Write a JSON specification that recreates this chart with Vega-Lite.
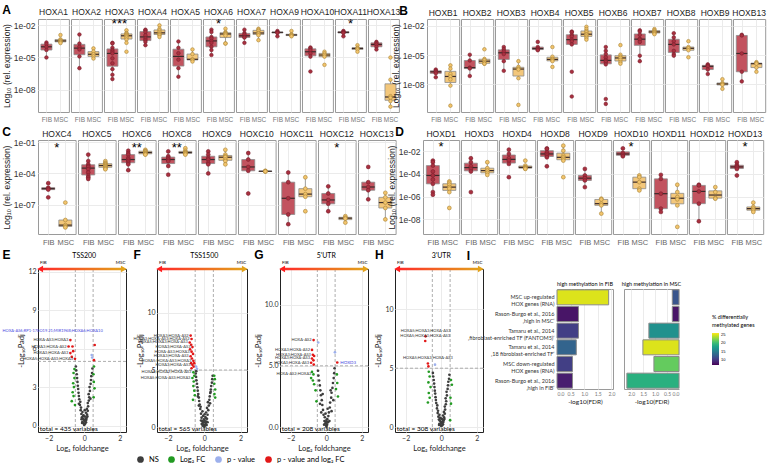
{
"$schema": "https://vega.github.io/schema/vega-lite/v6.json",
"padding": {"left": 2, "top": 3, "right": 2, "bottom": 1},
"spacing": 2,
"align": "none",
"center": false,
"resolve": {"scale": {"color": "independent", "fill": "independent", "stroke": "independent"}},
"config": {
  "font": "Liberation Sans",
  "view": {"stroke": "#9a9a9a"},
  "axis": {"gridColor": "#ebebeb", "domain": false, "ticks": false, "labelColor": "#333", "titleColor": "#222", "titleFontWeight": "normal"},
  "title": {"fontSize": 12, "fontWeight": "bold", "anchor": "start", "frame": "bounds", "color": "#000"},
  "header": {"labelFontSize": 8.5, "labelColor": "#222", "labelPadding": 1}
},
"vconcat": [
 {"hconcat": [
  {"title": {"text": "A", "offset": -9},
   "data": {"name": "A"}, "spacing": 0,
   "facet": {"column": {"field": "g", "type": "nominal", "sort": ["HOXA1","HOXA2","HOXA3","HOXA4","HOXA5","HOXA6","HOXA7","HOXA9","HOXA10","HOXA11","HOXA13"], "header": {"title": null}}},
   "spec": {"width": 30.9, "height": 93,
    "encoding": {"y": {"field": "v", "type": "quantitative", "scale": {"domain": [-10.1, -1.4], "nice": false, "zero": false}, "axis": {"title": "Log₁₀ (rel. expression)", "values": [-2, -5, -8], "labelExpr": "'1e-0' + (-datum.value)", "labelFontSize": 8.5, "titleFontSize": 8.5, "labelPadding": 2, "titlePadding": 2}}},
    "layer": [
     {"transform": [{"filter": "!datum.k"}], "mark": {"type": "boxplot", "extent": 1.5, "size": 11, "outliers": false, "ticks": false, "median": false, "box": {"stroke": "#8c8c8c", "strokeWidth": 0.8}, "rule": {"color": "#8c8c8c", "strokeWidth": 0.8}},
      "encoding": {"x": {"field": "s", "type": "nominal", "scale": {"type": "point", "padding": 0.6}, "axis": {"title": null, "labelAngle": 0, "labelFontSize": 6.5, "labelColor": "#777", "grid": true, "labelPadding": 3}}, "color": {"field": "s", "type": "nominal", "scale": {"domain": ["FIB", "MSC"], "range": ["#c2535f", "#f3c77b"]}, "legend": null}}},
     {"transform": [{"filter": "!datum.k"}], "mark": {"type": "tick", "color": "#3a2a2a", "size": 11, "thickness": 1.2},
      "encoding": {"x": {"field": "s", "type": "nominal"}, "y": {"aggregate": "median", "field": "v", "type": "quantitative"}}},
     {"transform": [{"filter": "!datum.k"}], "mark": {"type": "point", "filled": true, "size": 13, "opacity": 1, "strokeWidth": 0.6},
      "encoding": {"x": {"field": "s", "type": "nominal"}, "fill": {"field": "s", "type": "nominal", "scale": {"domain": ["FIB", "MSC"], "range": ["#a8303f", "#f2c46c"]}, "legend": null}, "stroke": {"field": "s", "type": "nominal", "scale": {"domain": ["FIB", "MSC"], "range": ["#7a1f2b", "#a88336"]}, "legend": null}}},
     {"transform": [{"filter": "datum.k"}], "mark": {"type": "text", "fontSize": 13, "baseline": "middle"}, "encoding": {"text": {"field": "k"}}}
    ]}},
  {"title": {"text": "B", "offset": -9, "dx": 8},
   "data": {"name": "B"}, "spacing": 0,
   "facet": {"column": {"field": "g", "type": "nominal", "sort": ["HOXB1","HOXB2","HOXB3","HOXB4","HOXB5","HOXB6","HOXB7","HOXB8","HOXB9","HOXB13"], "header": {"title": null}}},
   "spec": {"width": 32.2, "height": 93,
    "encoding": {"y": {"field": "v", "type": "quantitative", "scale": {"domain": [-10.85, -1.3], "nice": false, "zero": false}, "axis": {"title": "Log₁₀ (rel. expression)", "values": [-2, -5, -8], "labelExpr": "'1e-0' + (-datum.value)", "labelFontSize": 8.5, "titleFontSize": 8.5, "labelPadding": 2, "titlePadding": 2}}},
    "layer": [
     {"mark": {"type": "boxplot", "extent": 1.5, "size": 11, "outliers": false, "ticks": false, "median": false, "box": {"stroke": "#8c8c8c", "strokeWidth": 0.8}, "rule": {"color": "#8c8c8c", "strokeWidth": 0.8}},
      "encoding": {"x": {"field": "s", "type": "nominal", "scale": {"type": "point", "padding": 0.6}, "axis": {"title": null, "labelAngle": 0, "labelFontSize": 6.5, "labelColor": "#777", "grid": true, "labelPadding": 3}}, "color": {"field": "s", "type": "nominal", "scale": {"domain": ["FIB", "MSC"], "range": ["#c2535f", "#f3c77b"]}, "legend": null}}},
     {"mark": {"type": "tick", "color": "#3a2a2a", "size": 11, "thickness": 1.2},
      "encoding": {"x": {"field": "s", "type": "nominal"}, "y": {"aggregate": "median", "field": "v", "type": "quantitative"}}},
     {"mark": {"type": "point", "filled": true, "size": 13, "opacity": 1, "strokeWidth": 0.6},
      "encoding": {"x": {"field": "s", "type": "nominal"}, "fill": {"field": "s", "type": "nominal", "scale": {"domain": ["FIB", "MSC"], "range": ["#a8303f", "#f2c46c"]}, "legend": null}, "stroke": {"field": "s", "type": "nominal", "scale": {"domain": ["FIB", "MSC"], "range": ["#7a1f2b", "#a88336"]}, "legend": null}}}
    ]}}
 ], "spacing": -10},
 {"hconcat": [
  {"title": {"text": "C", "offset": -9},
   "data": {"name": "C"}, "spacing": 0,
   "facet": {"column": {"field": "g", "type": "nominal", "sort": ["HOXC4","HOXC5","HOXC6","HOXC8","HOXC9","HOXC10","HOXC11","HOXC12","HOXC13"], "header": {"title": null}}},
   "spec": {"width": 37.6, "height": 94,
    "encoding": {"y": {"field": "v", "type": "quantitative", "scale": {"domain": [-9.8, -0.8], "nice": false, "zero": false}, "axis": {"title": "Log₁₀ (rel. expression)", "values": [-1, -4, -7], "labelExpr": "'1e-0' + (-datum.value)", "labelFontSize": 8.5, "titleFontSize": 8.5, "labelPadding": 2, "titlePadding": 2}}},
    "layer": [
     {"transform": [{"filter": "!datum.k"}], "mark": {"type": "boxplot", "extent": 1.5, "size": 13, "outliers": false, "ticks": false, "median": false, "box": {"stroke": "#8c8c8c", "strokeWidth": 0.8}, "rule": {"color": "#8c8c8c", "strokeWidth": 0.8}},
      "encoding": {"x": {"field": "s", "type": "nominal", "scale": {"type": "point", "padding": 0.6}, "axis": {"title": null, "labelAngle": 0, "labelFontSize": 7.5, "labelColor": "#666", "grid": true, "labelPadding": 3}}, "color": {"field": "s", "type": "nominal", "scale": {"domain": ["FIB", "MSC"], "range": ["#c2535f", "#f3c77b"]}, "legend": null}}},
     {"transform": [{"filter": "!datum.k"}], "mark": {"type": "tick", "color": "#3a2a2a", "size": 13, "thickness": 1.2},
      "encoding": {"x": {"field": "s", "type": "nominal"}, "y": {"aggregate": "median", "field": "v", "type": "quantitative"}}},
     {"transform": [{"filter": "!datum.k"}], "mark": {"type": "point", "filled": true, "size": 15, "opacity": 1, "strokeWidth": 0.6},
      "encoding": {"x": {"field": "s", "type": "nominal"}, "fill": {"field": "s", "type": "nominal", "scale": {"domain": ["FIB", "MSC"], "range": ["#a8303f", "#f2c46c"]}, "legend": null}, "stroke": {"field": "s", "type": "nominal", "scale": {"domain": ["FIB", "MSC"], "range": ["#7a1f2b", "#a88336"]}, "legend": null}}},
     {"transform": [{"filter": "datum.k"}], "mark": {"type": "text", "fontSize": 13, "baseline": "middle"}, "encoding": {"text": {"field": "k"}}}
    ]}},
  {"title": {"text": "D", "offset": -9, "dx": 8},
   "data": {"name": "D"}, "spacing": 0,
   "facet": {"column": {"field": "g", "type": "nominal", "sort": ["HOXD1","HOXD3","HOXD4","HOXD8","HOXD9","HOXD10","HOXD11","HOXD12","HOXD13"], "header": {"title": null}}},
   "spec": {"width": 36.2, "height": 94,
    "encoding": {"y": {"field": "v", "type": "quantitative", "scale": {"domain": [-9.3, -1.0], "nice": false, "zero": false}, "axis": {"title": "Log₁₀ (rel. expression)", "values": [-2, -4, -6, -8], "labelExpr": "'1e-0' + (-datum.value)", "labelFontSize": 8.5, "titleFontSize": 8.5, "labelPadding": 2, "titlePadding": 2}}},
    "layer": [
     {"transform": [{"filter": "!datum.k"}], "mark": {"type": "boxplot", "extent": 1.5, "size": 13, "outliers": false, "ticks": false, "median": false, "box": {"stroke": "#8c8c8c", "strokeWidth": 0.8}, "rule": {"color": "#8c8c8c", "strokeWidth": 0.8}},
      "encoding": {"x": {"field": "s", "type": "nominal", "scale": {"type": "point", "padding": 0.6}, "axis": {"title": null, "labelAngle": 0, "labelFontSize": 7.5, "labelColor": "#666", "grid": true, "labelPadding": 3}}, "color": {"field": "s", "type": "nominal", "scale": {"domain": ["FIB", "MSC"], "range": ["#c2535f", "#f3c77b"]}, "legend": null}}},
     {"transform": [{"filter": "!datum.k"}], "mark": {"type": "tick", "color": "#3a2a2a", "size": 13, "thickness": 1.2},
      "encoding": {"x": {"field": "s", "type": "nominal"}, "y": {"aggregate": "median", "field": "v", "type": "quantitative"}}},
     {"transform": [{"filter": "!datum.k"}], "mark": {"type": "point", "filled": true, "size": 15, "opacity": 1, "strokeWidth": 0.6},
      "encoding": {"x": {"field": "s", "type": "nominal"}, "fill": {"field": "s", "type": "nominal", "scale": {"domain": ["FIB", "MSC"], "range": ["#a8303f", "#f2c46c"]}, "legend": null}, "stroke": {"field": "s", "type": "nominal", "scale": {"domain": ["FIB", "MSC"], "range": ["#7a1f2b", "#a88336"]}, "legend": null}}},
     {"transform": [{"filter": "datum.k"}], "mark": {"type": "text", "fontSize": 13, "baseline": "middle"}, "encoding": {"text": {"field": "k"}}}
    ]}}
 ], "spacing": -10},
 {"hconcat": [
  {"hconcat": [
   {"width": 88, "height": 163, "view": {"stroke": "#222"}, "title": {"text": "E", "offset": -10},
    "data": {"values": [{}]},
    "layer": [
     {"mark": {"type": "rule", "strokeDash": [3, 2], "color": "#999", "strokeWidth": 0.8}, "encoding": {"x": {"datum": -0.5}}},
     {"mark": {"type": "rule", "strokeDash": [3, 2], "color": "#999", "strokeWidth": 0.8}, "encoding": {"x": {"datum": 0.5}}},
     {"mark": {"type": "rule", "strokeDash": [3, 2], "color": "#999", "strokeWidth": 0.8}, "encoding": {"y": {"datum": 5}}},
     {"data": {"name": "VE"}, "mark": {"type": "circle", "size": 7, "opacity": 1},
      "encoding": {"x": {"field": "x", "type": "quantitative", "scale": {"domain": [-2.6, 2.35], "nice": false}, "axis": {"title": "Log₂ foldchange", "values": [-2, -1, 0, 1, 2], "labelFont": "Lato", "titleFont": "Lato", "labelFontSize": 7, "titleFontSize": 7.5, "grid": true, "labelPadding": 2, "titlePadding": 3}},
       "y": {"field": "y", "type": "quantitative", "scale": {"domain": [-0.5, 12.2], "nice": false}, "axis": {"title": "-Log₁₀Padj", "values": [0, 3, 6, 9, 12], "labelFont": "Lato", "titleFont": "Lato", "labelFontSize": 7, "titleFontSize": 7.5, "grid": true, "labelPadding": 2, "titlePadding": 2}},
       "color": {"field": "c", "type": "nominal", "scale": {"domain": ["NS", "FC", "P", "PFC"], "range": ["#3d3d3d", "#229a22", "#9db0ec", "#e21818"]}, "legend": {"orient": "none", "legendX": 98, "legendY": 186, "direction": "horizontal", "title": null, "symbolType": "circle", "symbolSize": 45, "labelFont": "Lato", "labelFontSize": 7.5, "columnPadding": 8, "labelExpr": "datum.label == 'FC' ? 'Log₂ FC' : datum.label == 'P' ? 'p - value' : datum.label == 'PFC' ? 'p - value and log₂ FC' : 'NS'"}}}},
     {"data": {"name": "VE"}, "transform": [{"filter": "datum.t"}], "mark": {"type": "text", "fontSize": 4, "align": "right", "dx": -2, "color": "#333", "font": "Lato"}, "encoding": {"x": {"field": "x", "type": "quantitative"}, "y": {"field": "y", "type": "quantitative"}, "text": {"field": "t"}}},
     {"data": {"name": "VE"}, "transform": [{"filter": "datum.tb"}], "mark": {"type": "text", "fontSize": 4, "align": "right", "dx": 8, "dy": -14, "color": "#4848e0", "font": "Lato"}, "encoding": {"x": {"field": "x", "type": "quantitative"}, "y": {"field": "y", "type": "quantitative"}, "text": {"field": "tb"}}},
     {"mark": {"type": "rect", "clip": false, "color": {"gradient": "linear", "stops": [{"offset": 0, "color": "#ff2a2a"}, {"offset": 1, "color": "#e3a21a"}]}}, "encoding": {"x": {"datum": -2.42}, "x2": {"datum": 2.17}, "y": {"datum": 12.3}, "y2": {"datum": 12.1}}},
     {"mark": {"type": "point", "shape": "triangle-left", "filled": true, "color": "#ff2020", "size": 45, "opacity": 1, "clip": false}, "encoding": {"x": {"datum": -2.48}, "y": {"datum": 12.2}}},
     {"mark": {"type": "point", "shape": "triangle-right", "filled": true, "color": "#e3a21a", "size": 45, "opacity": 1, "clip": false}, "encoding": {"x": {"datum": 2.23}, "y": {"datum": 12.2}}},
     {"mark": {"type": "text", "text": "FIB", "fontSize": 4.5, "dy": -6, "font": "Lato", "clip": false}, "encoding": {"x": {"datum": -2.3}, "y": {"datum": 12.2}}},
     {"mark": {"type": "text", "text": "MSC", "fontSize": 4.5, "dy": -6, "font": "Lato", "clip": false}, "encoding": {"x": {"datum": 2.05}, "y": {"datum": 12.2}}},
     {"mark": {"type": "text", "text": "TSS200", "fontSize": 7, "dy": -13, "font": "Lato", "clip": false}, "encoding": {"x": {"datum": 0}, "y": {"datum": 12.2}}},
     {"mark": {"type": "text", "text": "total = 435 variables", "fontSize": 6.5, "align": "left", "baseline": "bottom", "font": "Lato"}, "encoding": {"x": {"datum": -2.5}, "y": {"datum": -0.5}}}
    ]},
   {"width": 90, "height": 163, "view": {"stroke": "#222"}, "title": {"text": "F", "offset": -10},
    "data": {"values": [{}]},
    "layer": [
     {"mark": {"type": "rule", "strokeDash": [3, 2], "color": "#999", "strokeWidth": 0.8}, "encoding": {"x": {"datum": -0.5}}},
     {"mark": {"type": "rule", "strokeDash": [3, 2], "color": "#999", "strokeWidth": 0.8}, "encoding": {"x": {"datum": 0.5}}},
     {"mark": {"type": "rule", "strokeDash": [3, 2], "color": "#999", "strokeWidth": 0.8}, "encoding": {"y": {"datum": 5}}},
     {"data": {"name": "VF"}, "mark": {"type": "circle", "size": 7, "opacity": 1},
      "encoding": {"x": {"field": "x", "type": "quantitative", "scale": {"domain": [-2.6, 2.35], "nice": false}, "axis": {"title": "Log₂ foldchange", "values": [-2, -1, 0, 1, 2], "labelFont": "Lato", "titleFont": "Lato", "labelFontSize": 7, "titleFontSize": 7.5, "grid": true, "labelPadding": 2, "titlePadding": 3}},
       "y": {"field": "y", "type": "quantitative", "scale": {"domain": [-0.4, 13.8], "nice": false}, "axis": {"title": "-Log₁₀Padj", "values": [0, 5, 10], "labelFont": "Lato", "titleFont": "Lato", "labelFontSize": 7, "titleFontSize": 7.5, "grid": true, "labelPadding": 2, "titlePadding": 2}},
       "color": {"field": "c", "type": "nominal", "scale": {"domain": ["NS", "FC", "P", "PFC"], "range": ["#3d3d3d", "#229a22", "#9db0ec", "#e21818"]}, "legend": {"orient": "none", "legendX": 98, "legendY": 186, "direction": "horizontal", "title": null, "symbolType": "circle", "symbolSize": 45, "labelFont": "Lato", "labelFontSize": 7.5, "columnPadding": 8, "labelExpr": "datum.label == 'FC' ? 'Log₂ FC' : datum.label == 'P' ? 'p - value' : datum.label == 'PFC' ? 'p - value and log₂ FC' : 'NS'"}}}},
     {"data": {"name": "VF"}, "transform": [{"filter": "datum.t"}], "mark": {"type": "text", "fontSize": 4, "align": "right", "dx": -2, "color": "#333", "font": "Lato"}, "encoding": {"x": {"field": "x", "type": "quantitative"}, "y": {"field": "y", "type": "quantitative"}, "text": {"field": "t"}}},
     {"mark": {"type": "rect", "clip": false, "color": {"gradient": "linear", "stops": [{"offset": 0, "color": "#ff2a2a"}, {"offset": 1, "color": "#e3a21a"}]}}, "encoding": {"x": {"datum": -2.42}, "x2": {"datum": 2.17}, "y": {"datum": 13.9}, "y2": {"datum": 13.7}}},
     {"mark": {"type": "point", "shape": "triangle-left", "filled": true, "color": "#ff2020", "size": 45, "opacity": 1, "clip": false}, "encoding": {"x": {"datum": -2.48}, "y": {"datum": 13.8}}},
     {"mark": {"type": "point", "shape": "triangle-right", "filled": true, "color": "#e3a21a", "size": 45, "opacity": 1, "clip": false}, "encoding": {"x": {"datum": 2.23}, "y": {"datum": 13.8}}},
     {"mark": {"type": "text", "text": "FIB", "fontSize": 4.5, "dy": -6, "font": "Lato", "clip": false}, "encoding": {"x": {"datum": -2.3}, "y": {"datum": 13.8}}},
     {"mark": {"type": "text", "text": "MSC", "fontSize": 4.5, "dy": -6, "font": "Lato", "clip": false}, "encoding": {"x": {"datum": 2.05}, "y": {"datum": 13.8}}},
     {"mark": {"type": "text", "text": "TSS1500", "fontSize": 7, "dy": -13, "font": "Lato", "clip": false}, "encoding": {"x": {"datum": 0}, "y": {"datum": 13.8}}},
     {"mark": {"type": "text", "text": "total = 565 variables", "fontSize": 6.5, "align": "left", "baseline": "bottom", "font": "Lato"}, "encoding": {"x": {"datum": -2.5}, "y": {"datum": -0.4}}}
    ]},
   {"width": 88, "height": 163, "view": {"stroke": "#222"}, "title": {"text": "G", "offset": -10},
    "data": {"values": [{}]},
    "layer": [
     {"mark": {"type": "rule", "strokeDash": [3, 2], "color": "#999", "strokeWidth": 0.8}, "encoding": {"x": {"datum": -0.5}}},
     {"mark": {"type": "rule", "strokeDash": [3, 2], "color": "#999", "strokeWidth": 0.8}, "encoding": {"x": {"datum": 0.5}}},
     {"mark": {"type": "rule", "strokeDash": [3, 2], "color": "#999", "strokeWidth": 0.8}, "encoding": {"y": {"datum": 5}}},
     {"data": {"name": "VG"}, "mark": {"type": "circle", "size": 7, "opacity": 1},
      "encoding": {"x": {"field": "x", "type": "quantitative", "scale": {"domain": [-2.6, 2.35], "nice": false}, "axis": {"title": "Log₂ foldchange", "values": [-2, -1, 0, 1, 2], "labelFont": "Lato", "titleFont": "Lato", "labelFontSize": 7, "titleFontSize": 7.5, "grid": true, "labelPadding": 2, "titlePadding": 3}},
       "y": {"field": "y", "type": "quantitative", "scale": {"domain": [-0.4, 12.9], "nice": false}, "axis": {"title": "-Log₁₀Padj", "values": [0, 2.5, 5, 7.5, 10, 12.5], "format": ".1f", "labelFont": "Lato", "titleFont": "Lato", "labelFontSize": 7, "titleFontSize": 7.5, "grid": true, "labelPadding": 2, "titlePadding": 2}},
       "color": {"field": "c", "type": "nominal", "scale": {"domain": ["NS", "FC", "P", "PFC"], "range": ["#3d3d3d", "#229a22", "#9db0ec", "#e21818"]}, "legend": {"orient": "none", "legendX": 98, "legendY": 186, "direction": "horizontal", "title": null, "symbolType": "circle", "symbolSize": 45, "labelFont": "Lato", "labelFontSize": 7.5, "columnPadding": 8, "labelExpr": "datum.label == 'FC' ? 'Log₂ FC' : datum.label == 'P' ? 'p - value' : datum.label == 'PFC' ? 'p - value and log₂ FC' : 'NS'"}}}},
     {"data": {"name": "VG"}, "transform": [{"filter": "datum.t"}], "mark": {"type": "text", "fontSize": 4, "align": "right", "dx": -2, "color": "#333", "font": "Lato"}, "encoding": {"x": {"field": "x", "type": "quantitative"}, "y": {"field": "y", "type": "quantitative"}, "text": {"field": "t"}}},
     {"data": {"name": "VG"}, "transform": [{"filter": "datum.tb"}], "mark": {"type": "text", "fontSize": 4.5, "align": "left", "dx": 3, "color": "#4848e0", "font": "Lato"}, "encoding": {"x": {"field": "x", "type": "quantitative"}, "y": {"field": "y", "type": "quantitative"}, "text": {"field": "tb"}}},
     {"mark": {"type": "rect", "clip": false, "color": {"gradient": "linear", "stops": [{"offset": 0, "color": "#ff2a2a"}, {"offset": 1, "color": "#e3a21a"}]}}, "encoding": {"x": {"datum": -2.42}, "x2": {"datum": 2.17}, "y": {"datum": 13.0}, "y2": {"datum": 12.8}}},
     {"mark": {"type": "point", "shape": "triangle-left", "filled": true, "color": "#ff2020", "size": 45, "opacity": 1, "clip": false}, "encoding": {"x": {"datum": -2.48}, "y": {"datum": 12.9}}},
     {"mark": {"type": "point", "shape": "triangle-right", "filled": true, "color": "#e3a21a", "size": 45, "opacity": 1, "clip": false}, "encoding": {"x": {"datum": 2.23}, "y": {"datum": 12.9}}},
     {"mark": {"type": "text", "text": "FIB", "fontSize": 4.5, "dy": -6, "font": "Lato", "clip": false}, "encoding": {"x": {"datum": -2.3}, "y": {"datum": 12.9}}},
     {"mark": {"type": "text", "text": "MSC", "fontSize": 4.5, "dy": -6, "font": "Lato", "clip": false}, "encoding": {"x": {"datum": 2.05}, "y": {"datum": 12.9}}},
     {"mark": {"type": "text", "text": "5'UTR", "fontSize": 7, "dy": -13, "font": "Lato", "clip": false}, "encoding": {"x": {"datum": 0}, "y": {"datum": 12.9}}},
     {"mark": {"type": "text", "text": "total = 208 variables", "fontSize": 6.5, "align": "left", "baseline": "bottom", "font": "Lato"}, "encoding": {"x": {"datum": -2.5}, "y": {"datum": -0.4}}}
    ]},
   {"width": 88, "height": 163, "view": {"stroke": "#222"}, "title": {"text": "H", "offset": -10},
    "data": {"values": [{}]},
    "layer": [
     {"mark": {"type": "rule", "strokeDash": [3, 2], "color": "#999", "strokeWidth": 0.8}, "encoding": {"x": {"datum": -0.5}}},
     {"mark": {"type": "rule", "strokeDash": [3, 2], "color": "#999", "strokeWidth": 0.8}, "encoding": {"x": {"datum": 0.5}}},
     {"mark": {"type": "rule", "strokeDash": [3, 2], "color": "#999", "strokeWidth": 0.8}, "encoding": {"y": {"datum": 5}}},
     {"data": {"name": "VH"}, "mark": {"type": "circle", "size": 7, "opacity": 1},
      "encoding": {"x": {"field": "x", "type": "quantitative", "scale": {"domain": [-2.6, 2.35], "nice": false}, "axis": {"title": "Log₂ foldchange", "values": [-2, -1, 0, 1, 2], "labelFont": "Lato", "titleFont": "Lato", "labelFontSize": 7, "titleFontSize": 7.5, "grid": true, "labelPadding": 2, "titlePadding": 3}},
       "y": {"field": "y", "type": "quantitative", "scale": {"domain": [-0.4, 13.4], "nice": false}, "axis": {"title": "-Log₁₀Padj", "values": [0, 5, 10], "labelFont": "Lato", "titleFont": "Lato", "labelFontSize": 7, "titleFontSize": 7.5, "grid": true, "labelPadding": 2, "titlePadding": 2}},
       "color": {"field": "c", "type": "nominal", "scale": {"domain": ["NS", "FC", "P", "PFC"], "range": ["#3d3d3d", "#229a22", "#9db0ec", "#e21818"]}, "legend": {"orient": "none", "legendX": 98, "legendY": 186, "direction": "horizontal", "title": null, "symbolType": "circle", "symbolSize": 45, "labelFont": "Lato", "labelFontSize": 7.5, "columnPadding": 8, "labelExpr": "datum.label == 'FC' ? 'Log₂ FC' : datum.label == 'P' ? 'p - value' : datum.label == 'PFC' ? 'p - value and log₂ FC' : 'NS'"}}}},
     {"data": {"name": "VH"}, "transform": [{"filter": "datum.t"}], "mark": {"type": "text", "fontSize": 4, "align": "center", "dy": -5, "color": "#333", "font": "Lato"}, "encoding": {"x": {"field": "x", "type": "quantitative"}, "y": {"field": "y", "type": "quantitative"}, "text": {"field": "t"}}},
     {"mark": {"type": "rect", "clip": false, "color": {"gradient": "linear", "stops": [{"offset": 0, "color": "#ff2a2a"}, {"offset": 1, "color": "#e3a21a"}]}}, "encoding": {"x": {"datum": -2.42}, "x2": {"datum": 2.17}, "y": {"datum": 13.5}, "y2": {"datum": 13.3}}},
     {"mark": {"type": "point", "shape": "triangle-left", "filled": true, "color": "#ff2020", "size": 45, "opacity": 1, "clip": false}, "encoding": {"x": {"datum": -2.48}, "y": {"datum": 13.4}}},
     {"mark": {"type": "point", "shape": "triangle-right", "filled": true, "color": "#e3a21a", "size": 45, "opacity": 1, "clip": false}, "encoding": {"x": {"datum": 2.23}, "y": {"datum": 13.4}}},
     {"mark": {"type": "text", "text": "FIB", "fontSize": 4.5, "dy": -6, "font": "Lato", "clip": false}, "encoding": {"x": {"datum": -2.3}, "y": {"datum": 13.4}}},
     {"mark": {"type": "text", "text": "MSC", "fontSize": 4.5, "dy": -6, "font": "Lato", "clip": false}, "encoding": {"x": {"datum": 2.05}, "y": {"datum": 13.4}}},
     {"mark": {"type": "text", "text": "3'UTR", "fontSize": 7, "dy": -13, "font": "Lato", "clip": false}, "encoding": {"x": {"datum": 0}, "y": {"datum": 13.4}}},
     {"mark": {"type": "text", "text": "total = 308 variables", "fontSize": 6.5, "align": "left", "baseline": "bottom", "font": "Lato"}, "encoding": {"x": {"datum": -2.5}, "y": {"datum": -0.4}}}
    ]}
  ], "spacing": 4, "resolve": {"scale": {"color": "shared"}}},
  {"title": {"text": "I", "offset": 6},
   "vconcat": [
    {"width": 10, "height": 8, "view": {"stroke": null}, "data": {"values": [{}]}, "mark": {"type": "rule", "opacity": 0}, "encoding": {}},
    {"data": {"name": "I"},
     "hconcat": [
      {"width": 56, "height": 100, "title": {"text": "high methylation in FIB", "fontSize": 5.5, "fontWeight": "normal", "anchor": "middle", "frame": "group", "font": "Lato", "offset": 2},
       "transform": [{"filter": "datum.side == 'FIB'"}],
       "mark": {"type": "bar", "stroke": "#8a8a8a", "strokeWidth": 1},
       "encoding": {
        "y": {"field": "cat", "type": "nominal", "sort": null, "scale": {"paddingInner": 0.1, "paddingOuter": 0.05}, "axis": {"title": null, "labelExpr": "split(datum.label, '|')", "labelFont": "Lato", "labelFontSize": 5.5, "labelLineHeight": 7, "labelColor": "#333", "labelPadding": 3, "labelLimit": 200}},
        "x": {"field": "fdr", "type": "quantitative", "scale": {"domain": [0, 2.06], "nice": false}, "axis": {"title": "-log10(FDR)", "values": [0, 0.5, 1, 1.5, 2], "format": ".1f", "labelFont": "Lato", "titleFont": "Lato", "labelFontSize": 5, "titleFontSize": 6.5, "labelColor": "#777", "grid": true, "labelPadding": 2, "titlePadding": 2}},
        "color": {"field": "pct", "type": "quantitative", "scale": {"scheme": "viridis", "domain": [7, 26]}, "legend": {"orient": "none", "legendX": 155, "legendY": 46, "title": ["% differentially", "methylated genes"], "titleFont": "Lato", "titleFontSize": 5.5, "titleFontWeight": "normal", "labelFontSize": 4, "gradientLength": 32, "gradientThickness": 7, "values": [10, 15, 20, 25]}}
       }},
      {"width": 55, "height": 100, "title": {"text": "high methylation in MSC", "fontSize": 5.5, "fontWeight": "normal", "anchor": "middle", "frame": "group", "font": "Lato", "offset": 2},
       "transform": [{"filter": "datum.side == 'MSC'"}],
       "mark": {"type": "bar", "stroke": "#8a8a8a", "strokeWidth": 1},
       "encoding": {
        "y": {"field": "cat", "type": "nominal", "sort": null, "scale": {"paddingInner": 0.1, "paddingOuter": 0.05}, "axis": null},
        "x": {"field": "fdr", "type": "quantitative", "scale": {"domain": [0, 2.3], "nice": false, "reverse": true}, "axis": {"title": "-log10(FDR)", "values": [0, 0.5, 1, 1.5, 2], "format": ".1f", "labelFont": "Lato", "titleFont": "Lato", "labelFontSize": 5, "titleFontSize": 6.5, "labelColor": "#777", "grid": true, "labelPadding": 2, "titlePadding": 2}},
        "color": {"field": "pct", "type": "quantitative", "scale": {"scheme": "viridis", "domain": [7, 26]}, "legend": {"orient": "none", "legendX": 155, "legendY": 46, "title": ["% differentially", "methylated genes"], "titleFont": "Lato", "titleFontSize": 5.5, "titleFontWeight": "normal", "labelFontSize": 4, "gradientLength": 32, "gradientThickness": 7, "values": [10, 15, 20, 25]}}
       }}
     ], "spacing": 5}
   ], "spacing": 4}
 ], "spacing": -19, "resolve": {"scale": {"color": "independent"}}}
],
"datasets": {
"I": [
 {"cat": "MSC up-regulated|HOX genes (RNA)", "side": "FIB", "fdr": 1.9, "pct": 25},
 {"cat": "Rason-Burgo et al., 2016|‚high in MSC‘", "side": "FIB", "fdr": 0.79, "pct": 8},
 {"cat": "Tamaru et al., 2014|‚fibroblast-enriched TF (FANTOM5)‘", "side": "FIB", "fdr": 0.79, "pct": 10.5},
 {"cat": "Tamaru et al., 2014|‚18 fibroblast-enriched TF‘", "side": "FIB", "fdr": 0.71, "pct": 13},
 {"cat": "MSC down-regulated|HOX genes (RNA)", "side": "FIB", "fdr": 0.57, "pct": 10.5},
 {"cat": "Rason-Burgo et al., 2016|‚high in FIB‘", "side": "FIB", "fdr": 0.57, "pct": 8.5},
 {"cat": "MSC up-regulated|HOX genes (RNA)", "side": "MSC", "fdr": 0.28, "pct": 12},
 {"cat": "Rason-Burgo et al., 2016|‚high in MSC‘", "side": "MSC", "fdr": 0.28, "pct": 8},
 {"cat": "Tamaru et al., 2014|‚fibroblast-enriched TF (FANTOM5)‘", "side": "MSC", "fdr": 1.26, "pct": 16.5},
 {"cat": "Tamaru et al., 2014|‚18 fibroblast-enriched TF‘", "side": "MSC", "fdr": 1.51, "pct": 25},
 {"cat": "MSC down-regulated|HOX genes (RNA)", "side": "MSC", "fdr": 1.05, "pct": 21.5},
 {"cat": "Rason-Burgo et al., 2016|‚high in FIB‘", "side": "MSC", "fdr": 2.18, "pct": 19}
],
"VE": [
 {"x":0,"y":0.1,"c":"NS"},{"x":0.05,"y":0.15,"c":"NS"},{"x":-0.05,"y":0.2,"c":"NS"},{"x":0.1,"y":0.25,"c":"NS"},{"x":-0.1,"y":0.3,"c":"NS"},{"x":0.02,"y":0.35,"c":"NS"},{"x":-0.02,"y":0.45,"c":"NS"},{"x":0.08,"y":0.5,"c":"NS"},{"x":-0.08,"y":0.55,"c":"NS"},{"x":0.13,"y":0.6,"c":"NS"},{"x":-0.13,"y":0.65,"c":"NS"},{"x":0.04,"y":0.7,"c":"NS"},{"x":-0.04,"y":0.8,"c":"NS"},{"x":0.16,"y":0.85,"c":"NS"},{"x":-0.16,"y":0.9,"c":"NS"},{"x":0.1,"y":1.0,"c":"NS"},{"x":-0.1,"y":1.05,"c":"NS"},{"x":0.2,"y":1.15,"c":"NS"},{"x":-0.2,"y":1.2,"c":"NS"},{"x":0.15,"y":1.3,"c":"NS"},{"x":-0.18,"y":1.4,"c":"NS"},{"x":0.22,"y":1.5,"c":"NS"},{"x":-0.24,"y":1.6,"c":"NS"},{"x":0.2,"y":1.75,"c":"NS"},{"x":-0.22,"y":1.85,"c":"NS"},{"x":0.26,"y":1.95,"c":"NS"},{"x":-0.28,"y":2.05,"c":"NS"},{"x":0.28,"y":2.2,"c":"NS"},{"x":-0.3,"y":2.3,"c":"NS"},{"x":0.25,"y":2.45,"c":"NS"},{"x":-0.32,"y":2.55,"c":"NS"},{"x":0.32,"y":2.7,"c":"NS"},{"x":-0.34,"y":2.85,"c":"NS"},{"x":0.3,"y":3.0,"c":"NS"},{"x":-0.36,"y":3.1,"c":"NS"},{"x":0.36,"y":3.25,"c":"NS"},{"x":-0.38,"y":3.4,"c":"NS"},{"x":0.38,"y":3.55,"c":"NS"},{"x":-0.4,"y":3.7,"c":"NS"},{"x":0.4,"y":3.85,"c":"NS"},{"x":-0.42,"y":4.0,"c":"NS"},{"x":0.44,"y":4.1,"c":"NS"},{"x":-0.45,"y":4.3,"c":"NS"},{"x":0.46,"y":4.45,"c":"NS"},{"x":-0.47,"y":4.6,"c":"NS"},{"x":0.0,"y":0.05,"c":"NS"},{"x":0.06,"y":0.4,"c":"NS"},{"x":-0.06,"y":0.75,"c":"NS"},{"x":0.12,"y":0.45,"c":"NS"},{"x":-0.12,"y":0.2,"c":"NS"},{"x":0.18,"y":0.7,"c":"NS"},{"x":-0.15,"y":0.5,"c":"NS"},{"x":0.03,"y":1.2,"c":"NS"},{"x":-0.3,"y":1.7,"c":"NS"},{"x":0.35,"y":2.1,"c":"NS"},
 {"x":-0.55,"y":4.4,"c":"FC"},{"x":-0.6,"y":4.1,"c":"FC"},{"x":-0.55,"y":3.7,"c":"FC"},{"x":-0.62,"y":3.3,"c":"FC"},{"x":-0.58,"y":3.0,"c":"FC"},{"x":-0.65,"y":2.6,"c":"FC"},{"x":-0.6,"y":2.3,"c":"FC"},{"x":-0.7,"y":1.9,"c":"FC"},{"x":-0.52,"y":1.6,"c":"FC"},{"x":0.55,"y":4.6,"c":"FC"},{"x":0.52,"y":4.0,"c":"FC"},{"x":0.54,"y":3.4,"c":"FC"},{"x":0.58,"y":2.9,"c":"FC"},{"x":0.53,"y":2.2,"c":"FC"},
 {"x":-0.78,"y":6.66,"c":"PFC","t":"HOXA-AS3;HOXA3"},{"x":-0.88,"y":6.16,"c":"PFC","t":"HOXA3;HOXA-AS2"},{"x":-0.66,"y":6.16,"c":"PFC"},{"x":-0.78,"y":5.65,"c":"PFC","t":"HOXA3;HOXA-AS3"},{"x":-0.52,"y":5.2,"c":"PFC","t":"HOXA5;HOXA-AS3;HOXA3"},{"x":-0.7,"y":5.35,"c":"PFC"},{"x":-0.62,"y":5.8,"c":"PFC"},{"x":0.59,"y":6.28,"c":"PFC","tb":"HOXA-AS6;RP1-170O19.21;MIR196B;HOXA6;HOXA10"},{"x":0.55,"y":5.1,"c":"PFC"},
 {"x":0.45,"y":5.3,"c":"P"},{"x":0.42,"y":5.5,"c":"P"}
],
"VF": [
 {"x":0,"y":0.1,"c":"NS"},{"x":0.04,"y":0.2,"c":"NS"},{"x":-0.04,"y":0.25,"c":"NS"},{"x":0.08,"y":0.3,"c":"NS"},{"x":-0.08,"y":0.4,"c":"NS"},{"x":0.12,"y":0.5,"c":"NS"},{"x":-0.12,"y":0.55,"c":"NS"},{"x":0.02,"y":0.6,"c":"NS"},{"x":-0.02,"y":0.7,"c":"NS"},{"x":0.15,"y":0.75,"c":"NS"},{"x":-0.15,"y":0.85,"c":"NS"},{"x":0.06,"y":0.9,"c":"NS"},{"x":-0.06,"y":1.0,"c":"NS"},{"x":0.18,"y":1.1,"c":"NS"},{"x":-0.18,"y":1.2,"c":"NS"},{"x":0.1,"y":1.3,"c":"NS"},{"x":-0.1,"y":1.4,"c":"NS"},{"x":0.22,"y":1.5,"c":"NS"},{"x":-0.22,"y":1.6,"c":"NS"},{"x":0.15,"y":1.7,"c":"NS"},{"x":-0.2,"y":1.8,"c":"NS"},{"x":0.25,"y":1.9,"c":"NS"},{"x":-0.25,"y":2.0,"c":"NS"},{"x":0.2,"y":2.2,"c":"NS"},{"x":-0.28,"y":2.3,"c":"NS"},{"x":0.28,"y":2.4,"c":"NS"},{"x":-0.3,"y":2.6,"c":"NS"},{"x":0.3,"y":2.7,"c":"NS"},{"x":-0.33,"y":2.9,"c":"NS"},{"x":0.33,"y":3.0,"c":"NS"},{"x":-0.36,"y":3.2,"c":"NS"},{"x":0.36,"y":3.3,"c":"NS"},{"x":-0.38,"y":3.5,"c":"NS"},{"x":0.38,"y":3.6,"c":"NS"},{"x":-0.4,"y":3.8,"c":"NS"},{"x":0.42,"y":3.9,"c":"NS"},{"x":-0.43,"y":4.1,"c":"NS"},{"x":0.44,"y":4.2,"c":"NS"},{"x":-0.45,"y":4.4,"c":"NS"},{"x":0.46,"y":4.5,"c":"NS"},{"x":-0.47,"y":4.7,"c":"NS"},{"x":-0.44,"y":4.9,"c":"NS"},{"x":0.0,"y":0.05,"c":"NS"},{"x":0.05,"y":0.45,"c":"NS"},{"x":-0.05,"y":0.5,"c":"NS"},{"x":0.1,"y":0.8,"c":"NS"},{"x":-0.09,"y":0.15,"c":"NS"},{"x":0.13,"y":0.2,"c":"NS"},{"x":-0.14,"y":0.3,"c":"NS"},{"x":0.18,"y":0.45,"c":"NS"},{"x":-0.18,"y":0.6,"c":"NS"},{"x":0.02,"y":1.15,"c":"NS"},{"x":-0.3,"y":1.9,"c":"NS"},{"x":0.32,"y":2.1,"c":"NS"},{"x":-0.35,"y":2.7,"c":"NS"},{"x":0.35,"y":3.1,"c":"NS"},
 {"x":-0.6,"y":4.8,"c":"FC","t":"HOXA5;HOXA2;HOXA-AS3"},{"x":-0.55,"y":4.5,"c":"FC"},{"x":-0.65,"y":4.3,"c":"FC","t":"HOXA5;HOXA-AS3;HOXA3"},{"x":-0.58,"y":4.0,"c":"FC"},{"x":-0.6,"y":3.6,"c":"FC"},{"x":-0.55,"y":3.2,"c":"FC"},{"x":-0.52,"y":2.8,"c":"FC"},{"x":-0.62,"y":2.4,"c":"FC"},{"x":0.55,"y":4.5,"c":"FC"},{"x":0.58,"y":4.2,"c":"FC"},{"x":0.55,"y":3.8,"c":"FC"},{"x":0.6,"y":3.3,"c":"FC"},{"x":0.56,"y":2.9,"c":"FC"},{"x":0.6,"y":2.6,"c":"FC"},
 {"x":-0.75,"y":8.0,"c":"PFC","t":"HOXA3;HOXA-AS2"},{"x":-0.7,"y":7.7,"c":"PFC","t":"HOXA3;HOXA-AS3;HOXA-AS2"},{"x":-0.8,"y":7.4,"c":"PFC","t":"HOXA5;HOXA3;HOXA-AS3"},{"x":-0.72,"y":7.2,"c":"PFC"},{"x":-0.65,"y":7.0,"c":"PFC","t":"HOXA3;HOXA-AS3"},{"x":-0.78,"y":6.8,"c":"PFC"},{"x":-0.7,"y":6.6,"c":"PFC","t":"HOXA-AS3;HOXA3"},{"x":-0.62,"y":6.4,"c":"PFC"},{"x":-0.75,"y":6.2,"c":"PFC","t":"HOXA3;HOXA-AS3"},{"x":-0.68,"y":6.0,"c":"PFC"},{"x":-0.6,"y":5.8,"c":"PFC","t":"HOXA5;HOXA-AS3;HOXA3"},{"x":-0.72,"y":5.6,"c":"PFC"},{"x":-0.65,"y":5.45,"c":"PFC","t":"HOXA3;HOXA-AS3"},{"x":-0.58,"y":5.3,"c":"PFC"},{"x":-0.7,"y":5.15,"c":"PFC"},{"x":-0.55,"y":5.6,"c":"PFC"},
 {"x":-0.45,"y":5.3,"c":"P"},{"x":-0.4,"y":5.1,"c":"P"}
],
"VG": [
 {"x":0,"y":0.1,"c":"NS"},{"x":0.05,"y":0.2,"c":"NS"},{"x":-0.05,"y":0.3,"c":"NS"},{"x":0.1,"y":0.4,"c":"NS"},{"x":-0.1,"y":0.5,"c":"NS"},{"x":0.02,"y":0.6,"c":"NS"},{"x":-0.08,"y":0.8,"c":"NS"},{"x":0.12,"y":0.9,"c":"NS"},{"x":-0.15,"y":1.0,"c":"NS"},{"x":0.15,"y":1.2,"c":"NS"},{"x":-0.18,"y":1.4,"c":"NS"},{"x":0.2,"y":1.6,"c":"NS"},{"x":-0.22,"y":1.8,"c":"NS"},{"x":0.22,"y":2.0,"c":"NS"},{"x":-0.25,"y":2.2,"c":"NS"},{"x":0.28,"y":2.4,"c":"NS"},{"x":-0.3,"y":2.6,"c":"NS"},{"x":0.3,"y":2.8,"c":"NS"},{"x":-0.33,"y":3.0,"c":"NS"},{"x":0.35,"y":3.2,"c":"NS"},{"x":-0.36,"y":3.4,"c":"NS"},{"x":0.38,"y":3.6,"c":"NS"},{"x":-0.4,"y":3.8,"c":"NS"},{"x":0.42,"y":4.0,"c":"NS"},{"x":-0.44,"y":4.2,"c":"NS"},{"x":0.45,"y":4.4,"c":"NS"},{"x":-0.46,"y":4.6,"c":"NS"},{"x":0.47,"y":4.8,"c":"NS"},{"x":0.0,"y":0.3,"c":"NS"},{"x":0.06,"y":0.65,"c":"NS"},{"x":-0.04,"y":1.1,"c":"NS"},{"x":0.08,"y":1.5,"c":"NS"},{"x":-0.12,"y":0.2,"c":"NS"},{"x":0.18,"y":0.5,"c":"NS"},{"x":-0.2,"y":2.7,"c":"NS"},{"x":0.25,"y":3.0,"c":"NS"},{"x":-0.35,"y":1.9,"c":"NS"},{"x":0.4,"y":2.2,"c":"NS"},{"x":0.3,"y":1.3,"c":"NS"},{"x":-0.28,"y":1.2,"c":"NS"},{"x":0.02,"y":0.0,"c":"NS"},{"x":-0.02,"y":0.45,"c":"NS"},
 {"x":-0.8,"y":4.5,"c":"FC"},{"x":-0.72,"y":4.3,"c":"FC","t":"HOXA-AS2;HOXA3"},{"x":-0.85,"y":4.0,"c":"FC"},{"x":-0.75,"y":3.8,"c":"FC"},{"x":-0.68,"y":3.5,"c":"FC"},{"x":-0.55,"y":2.1,"c":"FC"},{"x":-0.6,"y":3.0,"c":"FC"},{"x":0.6,"y":4.3,"c":"FC"},{"x":0.62,"y":3.6,"c":"FC"},{"x":0.66,"y":2.5,"c":"FC"},{"x":0.55,"y":3.1,"c":"FC"},
 {"x":-0.71,"y":7.1,"c":"PFC","t":"HOXA-AS2"},{"x":-0.8,"y":6.3,"c":"PFC","t":"HOXA3;HOXA-AS2"},{"x":-0.75,"y":5.9,"c":"PFC","t":"HOXA3;HOXA-AS3"},{"x":-0.68,"y":5.8,"c":"PFC"},{"x":-0.8,"y":5.6,"c":"PFC","t":"HOXA3;HOXA-AS3"},{"x":-0.72,"y":5.45,"c":"PFC"},{"x":-0.85,"y":5.25,"c":"PFC","t":"HOXA3;HOXA-AS3"},{"x":-0.7,"y":5.1,"c":"PFC"},{"x":0.62,"y":5.27,"c":"PFC","tb":"HOXD3"},
 {"x":-0.45,"y":6.9,"c":"P"},{"x":0.49,"y":6.1,"c":"P"}
],
"VH": [
 {"x":0,"y":0.1,"c":"NS"},{"x":0.05,"y":0.15,"c":"NS"},{"x":-0.05,"y":0.2,"c":"NS"},{"x":0.1,"y":0.25,"c":"NS"},{"x":-0.1,"y":0.3,"c":"NS"},{"x":0.02,"y":0.35,"c":"NS"},{"x":-0.02,"y":0.45,"c":"NS"},{"x":0.08,"y":0.5,"c":"NS"},{"x":-0.08,"y":0.55,"c":"NS"},{"x":0.13,"y":0.6,"c":"NS"},{"x":-0.13,"y":0.65,"c":"NS"},{"x":0.04,"y":0.7,"c":"NS"},{"x":-0.04,"y":0.8,"c":"NS"},{"x":0.16,"y":0.85,"c":"NS"},{"x":-0.16,"y":0.9,"c":"NS"},{"x":0.1,"y":1.0,"c":"NS"},{"x":-0.1,"y":1.05,"c":"NS"},{"x":0.2,"y":1.15,"c":"NS"},{"x":-0.2,"y":1.2,"c":"NS"},{"x":0.15,"y":1.3,"c":"NS"},{"x":-0.18,"y":1.4,"c":"NS"},{"x":0.22,"y":1.5,"c":"NS"},{"x":-0.24,"y":1.6,"c":"NS"},{"x":0.2,"y":1.75,"c":"NS"},{"x":-0.22,"y":1.85,"c":"NS"},{"x":0.26,"y":1.95,"c":"NS"},{"x":-0.28,"y":2.05,"c":"NS"},{"x":0.28,"y":2.2,"c":"NS"},{"x":-0.3,"y":2.3,"c":"NS"},{"x":0.25,"y":2.45,"c":"NS"},{"x":-0.32,"y":2.55,"c":"NS"},{"x":0.32,"y":2.7,"c":"NS"},{"x":-0.34,"y":2.85,"c":"NS"},{"x":0.3,"y":3.0,"c":"NS"},{"x":-0.36,"y":3.1,"c":"NS"},{"x":0.36,"y":3.25,"c":"NS"},{"x":-0.38,"y":3.4,"c":"NS"},{"x":0.38,"y":3.55,"c":"NS"},{"x":-0.4,"y":3.7,"c":"NS"},{"x":0.4,"y":3.85,"c":"NS"},{"x":-0.42,"y":4.0,"c":"NS"},{"x":0.44,"y":4.1,"c":"NS"},{"x":-0.45,"y":4.3,"c":"NS"},{"x":0.46,"y":4.45,"c":"NS"},{"x":-0.47,"y":4.6,"c":"NS"},{"x":0.06,"y":0.4,"c":"NS"},{"x":-0.06,"y":0.75,"c":"NS"},{"x":0.12,"y":0.45,"c":"NS"},{"x":-0.12,"y":0.2,"c":"NS"},{"x":0.18,"y":0.7,"c":"NS"},
 {"x":-0.7,"y":4.7,"c":"FC"},{"x":-0.65,"y":4.3,"c":"FC"},{"x":-0.72,"y":3.8,"c":"FC"},{"x":-0.6,"y":3.4,"c":"FC"},{"x":-0.7,"y":2.9,"c":"FC"},{"x":-0.65,"y":2.5,"c":"FC"},{"x":-0.75,"y":2.1,"c":"FC"},{"x":0.55,"y":4.0,"c":"FC"},{"x":0.6,"y":3.6,"c":"FC"},{"x":0.52,"y":2.5,"c":"FC"},{"x":0.55,"y":2.0,"c":"FC"},{"x":0.5,"y":0.6,"c":"FC"},
 {"x":-0.88,"y":7.7,"c":"PFC","t":"HOXA5;HOXA3;HOXA-AS3"},{"x":-0.9,"y":7.3,"c":"PFC","t":"HOXA5;HOXA3;HOXA-AS3"},{"x":-0.75,"y":5.4,"c":"PFC","t":"HOXA5;HOXA3;HOXA-AS3"},{"x":-0.72,"y":5.15,"c":"PFC"},
 {"x":-0.35,"y":5.3,"c":"P"}
],
"A": [
 {"g":"HOXA1","s":"FIB","v":-3.6},{"g":"HOXA1","s":"FIB","v":-3.75},{"g":"HOXA1","s":"FIB","v":-4.0},{"g":"HOXA1","s":"FIB","v":-4.3},{"g":"HOXA1","s":"FIB","v":-5.0},
 {"g":"HOXA1","s":"MSC","v":-2.9},{"g":"HOXA1","s":"MSC","v":-3.3},{"g":"HOXA1","s":"MSC","v":-3.4},{"g":"HOXA1","s":"MSC","v":-3.5},{"g":"HOXA1","s":"MSC","v":-3.55},{"g":"HOXA1","s":"MSC","v":-3.65},
 {"g":"HOXA2","s":"FIB","v":-2.85},{"g":"HOXA2","s":"FIB","v":-3.7},{"g":"HOXA2","s":"FIB","v":-4.0},{"g":"HOXA2","s":"FIB","v":-4.25},{"g":"HOXA2","s":"FIB","v":-4.9},{"g":"HOXA2","s":"FIB","v":-6.0},
 {"g":"HOXA2","s":"MSC","v":-4.15},{"g":"HOXA2","s":"MSC","v":-4.45},{"g":"HOXA2","s":"MSC","v":-4.7},{"g":"HOXA2","s":"MSC","v":-4.9},{"g":"HOXA2","s":"MSC","v":-5.1},
 {"g":"HOXA3","s":"FIB","v":-3.63},{"g":"HOXA3","s":"FIB","v":-3.69},{"g":"HOXA3","s":"FIB","v":-4.09},{"g":"HOXA3","s":"FIB","v":-4.31},{"g":"HOXA3","s":"FIB","v":-4.46},{"g":"HOXA3","s":"FIB","v":-4.62},{"g":"HOXA3","s":"FIB","v":-5.08},{"g":"HOXA3","s":"FIB","v":-5.54},{"g":"HOXA3","s":"FIB","v":-6.09},{"g":"HOXA3","s":"FIB","v":-6.62},{"g":"HOXA3","s":"FIB","v":-7.02},
 {"g":"HOXA3","s":"MSC","v":-2.46},{"g":"HOXA3","s":"MSC","v":-2.71},{"g":"HOXA3","s":"MSC","v":-2.77},{"g":"HOXA3","s":"MSC","v":-2.86},{"g":"HOXA3","s":"MSC","v":-2.92},{"g":"HOXA3","s":"MSC","v":-3.02},{"g":"HOXA3","s":"MSC","v":-3.14},{"g":"HOXA3","s":"MSC","v":-3.32},{"g":"HOXA3","s":"MSC","v":-3.63},{"g":"HOXA3","s":"MSC","v":-4.46},
 {"g":"HOXA4","s":"FIB","v":-2.4},{"g":"HOXA4","s":"FIB","v":-2.46},{"g":"HOXA4","s":"FIB","v":-2.62},{"g":"HOXA4","s":"FIB","v":-2.92},{"g":"HOXA4","s":"FIB","v":-3.23},{"g":"HOXA4","s":"FIB","v":-3.38},{"g":"HOXA4","s":"FIB","v":-3.54},{"g":"HOXA4","s":"FIB","v":-3.85},
 {"g":"HOXA4","s":"MSC","v":-2.0},{"g":"HOXA4","s":"MSC","v":-2.31},{"g":"HOXA4","s":"MSC","v":-2.46},{"g":"HOXA4","s":"MSC","v":-2.62},{"g":"HOXA4","s":"MSC","v":-2.77},{"g":"HOXA4","s":"MSC","v":-2.83},{"g":"HOXA4","s":"MSC","v":-2.92},{"g":"HOXA4","s":"MSC","v":-3.08},
 {"g":"HOXA5","s":"FIB","v":-3.5},{"g":"HOXA5","s":"FIB","v":-4.1},{"g":"HOXA5","s":"FIB","v":-4.6},{"g":"HOXA5","s":"FIB","v":-5.2},{"g":"HOXA5","s":"FIB","v":-6.0},{"g":"HOXA5","s":"FIB","v":-6.8},
 {"g":"HOXA5","s":"MSC","v":-4.25},{"g":"HOXA5","s":"MSC","v":-4.68},{"g":"HOXA5","s":"MSC","v":-5.17},{"g":"HOXA5","s":"MSC","v":-5.23},{"g":"HOXA5","s":"MSC","v":-5.38},
 {"g":"HOXA6","s":"FIB","v":-2.4},{"g":"HOXA6","s":"FIB","v":-2.62},{"g":"HOXA6","s":"FIB","v":-3.08},{"g":"HOXA6","s":"FIB","v":-3.23},{"g":"HOXA6","s":"FIB","v":-3.45},{"g":"HOXA6","s":"FIB","v":-3.63},{"g":"HOXA6","s":"FIB","v":-4.0},{"g":"HOXA6","s":"FIB","v":-4.31},{"g":"HOXA6","s":"FIB","v":-4.77},
 {"g":"HOXA6","s":"MSC","v":-2.31},{"g":"HOXA6","s":"MSC","v":-2.62},{"g":"HOXA6","s":"MSC","v":-2.71},{"g":"HOXA6","s":"MSC","v":-2.77},{"g":"HOXA6","s":"MSC","v":-2.83},{"g":"HOXA6","s":"MSC","v":-2.95},{"g":"HOXA6","s":"MSC","v":-3.69},{"g":"HOXA6","s":"MSC","v":-3.69},
 {"g":"HOXA7","s":"FIB","v":-2.4},{"g":"HOXA7","s":"FIB","v":-2.71},{"g":"HOXA7","s":"FIB","v":-2.86},{"g":"HOXA7","s":"FIB","v":-3.08},{"g":"HOXA7","s":"FIB","v":-3.14},{"g":"HOXA7","s":"FIB","v":-3.63},
 {"g":"HOXA7","s":"MSC","v":-2.31},{"g":"HOXA7","s":"MSC","v":-2.4},{"g":"HOXA7","s":"MSC","v":-2.52},{"g":"HOXA7","s":"MSC","v":-2.71},{"g":"HOXA7","s":"MSC","v":-2.77},{"g":"HOXA7","s":"MSC","v":-2.92},{"g":"HOXA7","s":"MSC","v":-3.38},
 {"g":"HOXA9","s":"FIB","v":-2.52},{"g":"HOXA9","s":"FIB","v":-2.62},{"g":"HOXA9","s":"FIB","v":-2.65},{"g":"HOXA9","s":"FIB","v":-2.71},{"g":"HOXA9","s":"FIB","v":-3.02},
 {"g":"HOXA9","s":"MSC","v":-2.52},{"g":"HOXA9","s":"MSC","v":-2.83},{"g":"HOXA9","s":"MSC","v":-2.89},{"g":"HOXA9","s":"MSC","v":-2.95},{"g":"HOXA9","s":"MSC","v":-3.02},
 {"g":"HOXA10","s":"FIB","v":-4.06},{"g":"HOXA10","s":"FIB","v":-4.15},{"g":"HOXA10","s":"FIB","v":-4.31},{"g":"HOXA10","s":"FIB","v":-4.62},{"g":"HOXA10","s":"FIB","v":-4.92},{"g":"HOXA10","s":"FIB","v":-6.31},
 {"g":"HOXA10","s":"MSC","v":-4.46},{"g":"HOXA10","s":"MSC","v":-4.62},{"g":"HOXA10","s":"MSC","v":-4.77},{"g":"HOXA10","s":"MSC","v":-4.92},{"g":"HOXA10","s":"MSC","v":-5.69},
 {"g":"HOXA11","s":"FIB","v":-2.52},{"g":"HOXA11","s":"FIB","v":-2.58},{"g":"HOXA11","s":"FIB","v":-2.65},{"g":"HOXA11","s":"FIB","v":-2.71},{"g":"HOXA11","s":"FIB","v":-3.02},
 {"g":"HOXA11","s":"MSC","v":-3.85},{"g":"HOXA11","s":"MSC","v":-4.09},{"g":"HOXA11","s":"MSC","v":-4.15},{"g":"HOXA11","s":"MSC","v":-4.25},{"g":"HOXA11","s":"MSC","v":-4.46},
 {"g":"HOXA13","s":"FIB","v":-3.54},{"g":"HOXA13","s":"FIB","v":-3.63},{"g":"HOXA13","s":"FIB","v":-3.78},{"g":"HOXA13","s":"FIB","v":-4.0},{"g":"HOXA13","s":"FIB","v":-4.25},
 {"g":"HOXA13","s":"MSC","v":-5.0},{"g":"HOXA13","s":"MSC","v":-7.08},{"g":"HOXA13","s":"MSC","v":-8.62},{"g":"HOXA13","s":"MSC","v":-8.77},{"g":"HOXA13","s":"MSC","v":-9.08},{"g":"HOXA13","s":"MSC","v":-9.6},
 {"g":"HOXA3","v":-1.9,"k":"***"},{"g":"HOXA6","v":-1.9,"k":"*"},{"g":"HOXA11","v":-1.9,"k":"*"}
],
"B": [
 {"g":"HOXB1","s":"FIB","v":-6.49},{"g":"HOXB1","s":"FIB","v":-6.62},{"g":"HOXB1","s":"FIB","v":-6.72},{"g":"HOXB1","s":"FIB","v":-6.88},{"g":"HOXB1","s":"FIB","v":-7.28},
 {"g":"HOXB1","s":"MSC","v":-6.06},{"g":"HOXB1","s":"MSC","v":-6.4},{"g":"HOXB1","s":"MSC","v":-6.95},{"g":"HOXB1","s":"MSC","v":-7.2},{"g":"HOXB1","s":"MSC","v":-7.5},{"g":"HOXB1","s":"MSC","v":-8.14},{"g":"HOXB1","s":"MSC","v":-10.2},
 {"g":"HOXB2","s":"FIB","v":-4.97},{"g":"HOXB2","s":"FIB","v":-5.56},{"g":"HOXB2","s":"FIB","v":-6.29},{"g":"HOXB2","s":"FIB","v":-6.39},{"g":"HOXB2","s":"FIB","v":-7.15},
 {"g":"HOXB2","s":"MSC","v":-4.41},{"g":"HOXB2","s":"MSC","v":-5.4},{"g":"HOXB2","s":"MSC","v":-5.53},{"g":"HOXB2","s":"MSC","v":-5.73},{"g":"HOXB2","s":"MSC","v":-5.89},{"g":"HOXB2","s":"MSC","v":-5.89},
 {"g":"HOXB3","s":"FIB","v":-4.18},{"g":"HOXB3","s":"FIB","v":-4.41},{"g":"HOXB3","s":"FIB","v":-4.64},{"g":"HOXB3","s":"FIB","v":-4.9},{"g":"HOXB3","s":"FIB","v":-5.63},{"g":"HOXB3","s":"FIB","v":-6.62},
 {"g":"HOXB3","s":"MSC","v":-5.63},{"g":"HOXB3","s":"MSC","v":-6.22},{"g":"HOXB3","s":"MSC","v":-6.39},{"g":"HOXB3","s":"MSC","v":-6.49},{"g":"HOXB3","s":"MSC","v":-7.38},{"g":"HOXB3","s":"MSC","v":-10.12},
 {"g":"HOXB4","s":"FIB","v":-3.65},{"g":"HOXB4","s":"FIB","v":-4.18},{"g":"HOXB4","s":"FIB","v":-4.34},{"g":"HOXB4","s":"FIB","v":-4.44},{"g":"HOXB4","s":"FIB","v":-4.51},
 {"g":"HOXB4","s":"MSC","v":-4.18},{"g":"HOXB4","s":"MSC","v":-5.17},{"g":"HOXB4","s":"MSC","v":-5.4},{"g":"HOXB4","s":"MSC","v":-5.5},{"g":"HOXB4","s":"MSC","v":-5.63},{"g":"HOXB4","s":"MSC","v":-6.22},
 {"g":"HOXB5","s":"FIB","v":-2.59},{"g":"HOXB5","s":"FIB","v":-2.66},{"g":"HOXB5","s":"FIB","v":-2.92},{"g":"HOXB5","s":"FIB","v":-3.09},{"g":"HOXB5","s":"FIB","v":-3.42},{"g":"HOXB5","s":"FIB","v":-3.59},{"g":"HOXB5","s":"FIB","v":-3.91},{"g":"HOXB5","s":"FIB","v":-6.72},{"g":"HOXB5","s":"FIB","v":-9.26},
 {"g":"HOXB5","s":"MSC","v":-2.1},{"g":"HOXB5","s":"MSC","v":-2.33},{"g":"HOXB5","s":"MSC","v":-2.53},{"g":"HOXB5","s":"MSC","v":-2.66},{"g":"HOXB5","s":"MSC","v":-2.86},{"g":"HOXB5","s":"MSC","v":-2.92},{"g":"HOXB5","s":"MSC","v":-3.09},{"g":"HOXB5","s":"MSC","v":-3.25},{"g":"HOXB5","s":"MSC","v":-3.42},
 {"g":"HOXB6","s":"FIB","v":-4.18},{"g":"HOXB6","s":"FIB","v":-4.57},{"g":"HOXB6","s":"FIB","v":-4.9},{"g":"HOXB6","s":"FIB","v":-5.24},{"g":"HOXB6","s":"FIB","v":-5.5},{"g":"HOXB6","s":"FIB","v":-5.6},{"g":"HOXB6","s":"FIB","v":-5.73},{"g":"HOXB6","s":"FIB","v":-5.96},{"g":"HOXB6","s":"FIB","v":-9.52},{"g":"HOXB6","s":"FIB","v":-10.02},
 {"g":"HOXB6","s":"MSC","v":-3.98},{"g":"HOXB6","s":"MSC","v":-4.97},{"g":"HOXB6","s":"MSC","v":-5.17},{"g":"HOXB6","s":"MSC","v":-5.3},{"g":"HOXB6","s":"MSC","v":-5.5},{"g":"HOXB6","s":"MSC","v":-5.73},{"g":"HOXB6","s":"MSC","v":-5.89},
 {"g":"HOXB7","s":"FIB","v":-2.46},{"g":"HOXB7","s":"FIB","v":-2.59},{"g":"HOXB7","s":"FIB","v":-2.92},{"g":"HOXB7","s":"FIB","v":-3.32},{"g":"HOXB7","s":"FIB","v":-3.42},{"g":"HOXB7","s":"FIB","v":-3.65},{"g":"HOXB7","s":"FIB","v":-5.07},{"g":"HOXB7","s":"FIB","v":-5.63},
 {"g":"HOXB7","s":"MSC","v":-2.33},{"g":"HOXB7","s":"MSC","v":-2.46},{"g":"HOXB7","s":"MSC","v":-2.59},{"g":"HOXB7","s":"MSC","v":-2.66},{"g":"HOXB7","s":"MSC","v":-2.76},{"g":"HOXB7","s":"MSC","v":-2.86},
 {"g":"HOXB8","s":"FIB","v":-2.76},{"g":"HOXB8","s":"FIB","v":-3.19},{"g":"HOXB8","s":"FIB","v":-3.58},{"g":"HOXB8","s":"FIB","v":-3.91},{"g":"HOXB8","s":"FIB","v":-4.57},{"g":"HOXB8","s":"FIB","v":-4.9},{"g":"HOXB8","s":"FIB","v":-5.07},
 {"g":"HOXB8","s":"MSC","v":-3.58},{"g":"HOXB8","s":"MSC","v":-4.18},{"g":"HOXB8","s":"MSC","v":-4.31},{"g":"HOXB8","s":"MSC","v":-4.51},{"g":"HOXB8","s":"MSC","v":-5.23},
 {"g":"HOXB9","s":"FIB","v":-5.96},{"g":"HOXB9","s":"FIB","v":-6.06},{"g":"HOXB9","s":"FIB","v":-6.16},{"g":"HOXB9","s":"FIB","v":-6.49},{"g":"HOXB9","s":"FIB","v":-6.95},
 {"g":"HOXB9","s":"MSC","v":-7.48},{"g":"HOXB9","s":"MSC","v":-7.87},{"g":"HOXB9","s":"MSC","v":-7.97},{"g":"HOXB9","s":"MSC","v":-8.07},{"g":"HOXB9","s":"MSC","v":-8.47},
 {"g":"HOXB13","s":"FIB","v":-2.92},{"g":"HOXB13","s":"FIB","v":-2.99},{"g":"HOXB13","s":"FIB","v":-4.84},{"g":"HOXB13","s":"FIB","v":-6.72},{"g":"HOXB13","s":"FIB","v":-7.71},
 {"g":"HOXB13","s":"MSC","v":-5.73},{"g":"HOXB13","s":"MSC","v":-5.83},{"g":"HOXB13","s":"MSC","v":-5.89},{"g":"HOXB13","s":"MSC","v":-6.29},{"g":"HOXB13","s":"MSC","v":-6.72}
],
"C": [
 {"g":"HOXC4","s":"FIB","v":-4.93},{"g":"HOXC4","s":"FIB","v":-5.36},{"g":"HOXC4","s":"FIB","v":-5.46},{"g":"HOXC4","s":"FIB","v":-5.55},{"g":"HOXC4","s":"FIB","v":-6.29},
 {"g":"HOXC4","s":"MSC","v":-6.79},{"g":"HOXC4","s":"MSC","v":-8.46},{"g":"HOXC4","s":"MSC","v":-8.95},{"g":"HOXC4","s":"MSC","v":-9.08},{"g":"HOXC4","s":"MSC","v":-9.17},
 {"g":"HOXC5","s":"FIB","v":-2.2},{"g":"HOXC5","s":"FIB","v":-2.82},{"g":"HOXC5","s":"FIB","v":-3.13},{"g":"HOXC5","s":"FIB","v":-3.29},{"g":"HOXC5","s":"FIB","v":-3.38},{"g":"HOXC5","s":"FIB","v":-3.6},{"g":"HOXC5","s":"FIB","v":-3.91},{"g":"HOXC5","s":"FIB","v":-4.22},{"g":"HOXC5","s":"FIB","v":-4.37},{"g":"HOXC5","s":"FIB","v":-4.53},
 {"g":"HOXC5","s":"MSC","v":-2.82},{"g":"HOXC5","s":"MSC","v":-2.98},{"g":"HOXC5","s":"MSC","v":-3.05},{"g":"HOXC5","s":"MSC","v":-3.13},{"g":"HOXC5","s":"MSC","v":-3.2},{"g":"HOXC5","s":"MSC","v":-3.29},{"g":"HOXC5","s":"MSC","v":-3.35},{"g":"HOXC5","s":"MSC","v":-3.44},{"g":"HOXC5","s":"MSC","v":-3.52},{"g":"HOXC5","s":"MSC","v":-3.6},
 {"g":"HOXC6","s":"FIB","v":-1.83},{"g":"HOXC6","s":"FIB","v":-2.05},{"g":"HOXC6","s":"FIB","v":-2.2},{"g":"HOXC6","s":"FIB","v":-2.51},{"g":"HOXC6","s":"FIB","v":-2.67},{"g":"HOXC6","s":"FIB","v":-2.82},{"g":"HOXC6","s":"FIB","v":-2.98},{"g":"HOXC6","s":"FIB","v":-3.13},{"g":"HOXC6","s":"FIB","v":-3.69},
 {"g":"HOXC6","s":"MSC","v":-1.74},{"g":"HOXC6","s":"MSC","v":-1.83},{"g":"HOXC6","s":"MSC","v":-1.89},{"g":"HOXC6","s":"MSC","v":-1.95},{"g":"HOXC6","s":"MSC","v":-2.05},{"g":"HOXC6","s":"MSC","v":-2.11},{"g":"HOXC6","s":"MSC","v":-2.15},{"g":"HOXC6","s":"MSC","v":-2.2},
 {"g":"HOXC8","s":"FIB","v":-1.89},{"g":"HOXC8","s":"FIB","v":-2.36},{"g":"HOXC8","s":"FIB","v":-2.51},{"g":"HOXC8","s":"FIB","v":-2.67},{"g":"HOXC8","s":"FIB","v":-2.82},{"g":"HOXC8","s":"FIB","v":-3.29},{"g":"HOXC8","s":"FIB","v":-4.12},
 {"g":"HOXC8","s":"MSC","v":-1.59},{"g":"HOXC8","s":"MSC","v":-1.83},{"g":"HOXC8","s":"MSC","v":-1.95},{"g":"HOXC8","s":"MSC","v":-2.0},{"g":"HOXC8","s":"MSC","v":-2.05},{"g":"HOXC8","s":"MSC","v":-2.11},{"g":"HOXC8","s":"MSC","v":-2.2},
 {"g":"HOXC9","s":"FIB","v":-1.89},{"g":"HOXC9","s":"FIB","v":-2.2},{"g":"HOXC9","s":"FIB","v":-2.51},{"g":"HOXC9","s":"FIB","v":-2.67},{"g":"HOXC9","s":"FIB","v":-2.98},{"g":"HOXC9","s":"FIB","v":-3.13},{"g":"HOXC9","s":"FIB","v":-4.0},
 {"g":"HOXC9","s":"MSC","v":-1.74},{"g":"HOXC9","s":"MSC","v":-2.2},{"g":"HOXC9","s":"MSC","v":-2.36},{"g":"HOXC9","s":"MSC","v":-2.45},{"g":"HOXC9","s":"MSC","v":-2.67},{"g":"HOXC9","s":"MSC","v":-2.82},{"g":"HOXC9","s":"MSC","v":-3.13},
 {"g":"HOXC10","s":"FIB","v":-2.05},{"g":"HOXC10","s":"FIB","v":-2.67},{"g":"HOXC10","s":"FIB","v":-3.38},{"g":"HOXC10","s":"FIB","v":-3.75},{"g":"HOXC10","s":"FIB","v":-5.92},
 {"g":"HOXC10","s":"MSC","v":-3.75},{"g":"HOXC10","s":"MSC","v":-3.78},{"g":"HOXC10","s":"MSC","v":-3.81},{"g":"HOXC10","s":"MSC","v":-3.81},
 {"g":"HOXC11","s":"FIB","v":-3.91},{"g":"HOXC11","s":"FIB","v":-4.84},{"g":"HOXC11","s":"FIB","v":-6.38},{"g":"HOXC11","s":"FIB","v":-7.93},{"g":"HOXC11","s":"FIB","v":-8.86},
 {"g":"HOXC11","s":"MSC","v":-4.37},{"g":"HOXC11","s":"MSC","v":-5.46},{"g":"HOXC11","s":"MSC","v":-5.98},{"g":"HOXC11","s":"MSC","v":-6.23},{"g":"HOXC11","s":"MSC","v":-7.62},
 {"g":"HOXC12","s":"FIB","v":-5.24},{"g":"HOXC12","s":"FIB","v":-5.92},{"g":"HOXC12","s":"FIB","v":-6.54},{"g":"HOXC12","s":"FIB","v":-6.91},{"g":"HOXC12","s":"FIB","v":-7.62},
 {"g":"HOXC12","s":"MSC","v":-8.09},{"g":"HOXC12","s":"MSC","v":-8.24},{"g":"HOXC12","s":"MSC","v":-8.33},{"g":"HOXC12","s":"MSC","v":-8.71},
 {"g":"HOXC13","s":"FIB","v":-3.38},{"g":"HOXC13","s":"FIB","v":-4.84},{"g":"HOXC13","s":"FIB","v":-5.3},{"g":"HOXC13","s":"FIB","v":-5.61},{"g":"HOXC13","s":"FIB","v":-6.48},
 {"g":"HOXC13","s":"MSC","v":-5.86},{"g":"HOXC13","s":"MSC","v":-6.29},{"g":"HOXC13","s":"MSC","v":-6.79},{"g":"HOXC13","s":"MSC","v":-7.31},{"g":"HOXC13","s":"MSC","v":-8.4},
 {"g":"HOXC4","v":-1.6,"k":"*"},{"g":"HOXC6","v":-1.6,"k":"**"},{"g":"HOXC8","v":-1.6,"k":"**"},{"g":"HOXC12","v":-1.6,"k":"*"}
],
"D": [
 {"g":"HOXD1","s":"FIB","v":-2.82},{"g":"HOXD1","s":"FIB","v":-2.96},{"g":"HOXD1","s":"FIB","v":-3.26},{"g":"HOXD1","s":"FIB","v":-3.78},{"g":"HOXD1","s":"FIB","v":-4.13},{"g":"HOXD1","s":"FIB","v":-4.49},{"g":"HOXD1","s":"FIB","v":-4.87},{"g":"HOXD1","s":"FIB","v":-5.6},{"g":"HOXD1","s":"FIB","v":-5.83},
 {"g":"HOXD1","s":"MSC","v":-4.66},{"g":"HOXD1","s":"MSC","v":-4.78},{"g":"HOXD1","s":"MSC","v":-4.95},{"g":"HOXD1","s":"MSC","v":-5.16},{"g":"HOXD1","s":"MSC","v":-5.3},{"g":"HOXD1","s":"MSC","v":-5.6},{"g":"HOXD1","s":"MSC","v":-7.0},
 {"g":"HOXD3","s":"FIB","v":-2.61},{"g":"HOXD3","s":"FIB","v":-2.96},{"g":"HOXD3","s":"FIB","v":-3.32},{"g":"HOXD3","s":"FIB","v":-3.55},{"g":"HOXD3","s":"FIB","v":-3.78},{"g":"HOXD3","s":"FIB","v":-5.6},
 {"g":"HOXD3","s":"MSC","v":-2.96},{"g":"HOXD3","s":"MSC","v":-3.49},{"g":"HOXD3","s":"MSC","v":-3.7},{"g":"HOXD3","s":"MSC","v":-3.9},{"g":"HOXD3","s":"MSC","v":-4.08},
 {"g":"HOXD4","s":"FIB","v":-1.85},{"g":"HOXD4","s":"FIB","v":-2.23},{"g":"HOXD4","s":"FIB","v":-2.61},{"g":"HOXD4","s":"FIB","v":-2.82},{"g":"HOXD4","s":"FIB","v":-3.11},{"g":"HOXD4","s":"FIB","v":-4.28},
 {"g":"HOXD4","s":"MSC","v":-2.82},{"g":"HOXD4","s":"MSC","v":-3.26},{"g":"HOXD4","s":"MSC","v":-3.4},{"g":"HOXD4","s":"MSC","v":-3.45},{"g":"HOXD4","s":"MSC","v":-3.5},{"g":"HOXD4","s":"MSC","v":-3.55},
 {"g":"HOXD8","s":"FIB","v":-1.74},{"g":"HOXD8","s":"FIB","v":-1.8},{"g":"HOXD8","s":"FIB","v":-2.09},{"g":"HOXD8","s":"FIB","v":-2.23},{"g":"HOXD8","s":"FIB","v":-2.38},{"g":"HOXD8","s":"FIB","v":-2.53},{"g":"HOXD8","s":"FIB","v":-3.32},
 {"g":"HOXD8","s":"MSC","v":-1.5},{"g":"HOXD8","s":"MSC","v":-1.94},{"g":"HOXD8","s":"MSC","v":-2.38},{"g":"HOXD8","s":"MSC","v":-2.53},{"g":"HOXD8","s":"MSC","v":-2.67},{"g":"HOXD8","s":"MSC","v":-2.82},{"g":"HOXD8","s":"MSC","v":-4.28},
 {"g":"HOXD9","s":"FIB","v":-3.55},{"g":"HOXD9","s":"FIB","v":-4.13},{"g":"HOXD9","s":"FIB","v":-4.37},{"g":"HOXD9","s":"FIB","v":-4.57},{"g":"HOXD9","s":"FIB","v":-5.16},
 {"g":"HOXD9","s":"MSC","v":-6.18},{"g":"HOXD9","s":"MSC","v":-6.25},{"g":"HOXD9","s":"MSC","v":-6.62},{"g":"HOXD9","s":"MSC","v":-6.77},{"g":"HOXD9","s":"MSC","v":-7.5},
 {"g":"HOXD10","s":"FIB","v":-1.74},{"g":"HOXD10","s":"FIB","v":-2.15},{"g":"HOXD10","s":"FIB","v":-2.32},{"g":"HOXD10","s":"FIB","v":-2.44},
 {"g":"HOXD10","s":"MSC","v":-4.13},{"g":"HOXD10","s":"MSC","v":-4.28},{"g":"HOXD10","s":"MSC","v":-4.72},{"g":"HOXD10","s":"MSC","v":-5.3},{"g":"HOXD10","s":"MSC","v":-5.45},
 {"g":"HOXD11","s":"FIB","v":-4.08},{"g":"HOXD11","s":"FIB","v":-4.43},{"g":"HOXD11","s":"FIB","v":-5.74},{"g":"HOXD11","s":"FIB","v":-7.06},{"g":"HOXD11","s":"FIB","v":-7.35},
 {"g":"HOXD11","s":"MSC","v":-4.95},{"g":"HOXD11","s":"MSC","v":-5.6},{"g":"HOXD11","s":"MSC","v":-6.04},{"g":"HOXD11","s":"MSC","v":-6.24},{"g":"HOXD11","s":"MSC","v":-6.77},{"g":"HOXD11","s":"MSC","v":-8.67},
 {"g":"HOXD12","s":"FIB","v":-4.95},{"g":"HOXD12","s":"FIB","v":-5.01},{"g":"HOXD12","s":"FIB","v":-5.54},{"g":"HOXD12","s":"FIB","v":-6.62},{"g":"HOXD12","s":"FIB","v":-8.17},
 {"g":"HOXD12","s":"MSC","v":-5.16},{"g":"HOXD12","s":"MSC","v":-5.6},{"g":"HOXD12","s":"MSC","v":-6.12},{"g":"HOXD12","s":"MSC","v":-6.18},
 {"g":"HOXD13","s":"FIB","v":-2.96},{"g":"HOXD13","s":"FIB","v":-3.2},{"g":"HOXD13","s":"FIB","v":-3.32},{"g":"HOXD13","s":"FIB","v":-3.43},{"g":"HOXD13","s":"FIB","v":-3.55},{"g":"HOXD13","s":"FIB","v":-4.13},
 {"g":"HOXD13","s":"MSC","v":-6.53},{"g":"HOXD13","s":"MSC","v":-6.91},{"g":"HOXD13","s":"MSC","v":-7.06},{"g":"HOXD13","s":"MSC","v":-7.2},{"g":"HOXD13","s":"MSC","v":-7.35},
 {"g":"HOXD1","v":-1.65,"k":"*"},{"g":"HOXD10","v":-1.65,"k":"*"},{"g":"HOXD13","v":-1.65,"k":"*"}
]
}
}
